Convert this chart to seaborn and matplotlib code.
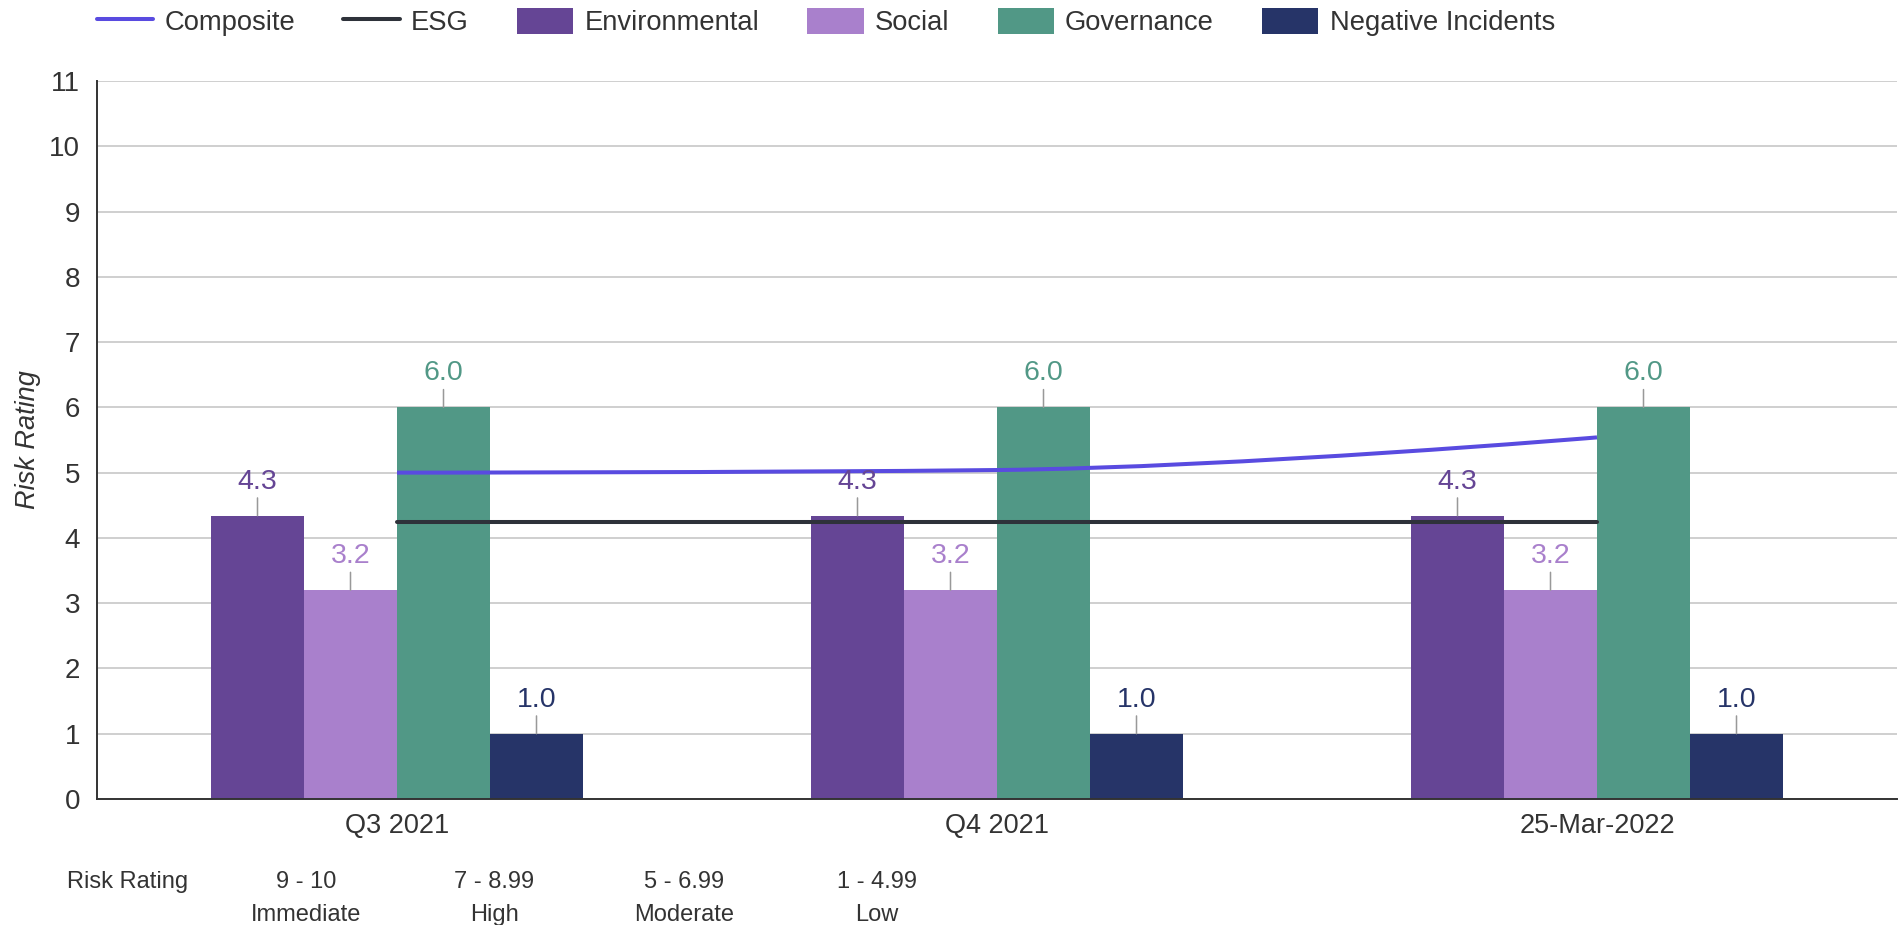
import numpy as np
import pandas as pd
import seaborn as sns
import matplotlib
matplotlib.use("Agg")
import matplotlib.pyplot as plt
from matplotlib.path import Path
from matplotlib.patches import PathPatch, Patch
from matplotlib.lines import Line2D

# ---- data -------------------------------------------------------------
periods = ["Q3 2021", "Q4 2021", "25-Mar-2022"]
environmental = [4.34, 4.34, 4.34]
social = [3.2, 3.2, 3.2]
governance = [6.0, 6.0, 6.0]
negative_incidents = [1.0, 1.0, 1.0]
composite = [5.0, 5.04, 5.54]
esg = [4.25, 4.25, 4.25]

pillars = ["Environmental", "Social", "Governance", "Negative Incidents"]
pillar_colors = ["#654595", "#a980cc", "#519886", "#263468"]
composite_color = "#594be0"
esg_color = "#2e323a"

band_ranges = ["9 - 10", "7 - 8.99", "5 - 6.99", "1 - 4.99"]
band_names = ["Immediate", "High", "Moderate", "Low"]
y_ticks = list(range(0, 12))

# ---- styling ----------------------------------------------------------
sns.set_theme(style="white")
plt.rcParams["font.family"] = ["Liberation Sans", "DejaVu Sans"]
text_color = "#333333"

df = pd.DataFrame({
    "period": np.repeat(periods, len(pillars)),
    "pillar": pillars * len(periods),
    "score": [v for vals in zip(environmental, social, governance, negative_incidents) for v in vals],
})

W, H = 1904, 925
fig = plt.figure(figsize=(W / 100, H / 100), dpi=100)
ax_left, ax_right, ax_top, ax_bottom = 97, 1897, 81, 799
ax = fig.add_axes([ax_left / W, 1 - ax_bottom / H,
                   (ax_right - ax_left) / W, (ax_bottom - ax_top) / H])

sns.barplot(data=df, x="period", y="score", hue="pillar", hue_order=pillars,
            palette=dict(zip(pillars, pillar_colors)), width=0.62, gap=0,
            saturation=1, linewidth=0, legend=False, ax=ax, zorder=2)

# value labels with short leader lines
for container, color in zip(ax.containers, pillar_colors):
    for bar in container:
        h = bar.get_height()
        x = bar.get_x() + bar.get_width() / 2
        ax.annotate(f"{h:.1f}", xy=(x, h), xytext=(0, 19.5), textcoords="offset points",
                    ha="center", va="baseline", fontsize=20.5, color=color, zorder=6,
                    arrowprops=dict(arrowstyle="-", color="#999999", lw=1.1,
                                    shrinkA=0, shrinkB=0))

# ESG reference line
sns.lineplot(x=[0, 1, 2], y=esg, color=esg_color, linewidth=2.9, ax=ax, zorder=4)


# Composite as a smoothed spline through the period values
def spline_path(xs, ys, smoothing=1.5):
    denom = smoothing + 1
    n = len(xs)
    left = [None] * n
    right = [None] * n
    for i in range(1, n - 1):
        lx = (smoothing * xs[i] + xs[i - 1]) / denom
        ly = (smoothing * ys[i] + ys[i - 1]) / denom
        rx = (smoothing * xs[i] + xs[i + 1]) / denom
        ry = (smoothing * ys[i] + ys[i + 1]) / denom
        corr = ((ry - ly) * (rx - xs[i])) / (rx - lx) + ys[i] - ry
        ly += corr
        ry += corr
        if ly > ys[i - 1] and ly > ys[i]:
            ly = max(ys[i - 1], ys[i])
            ry = 2 * ys[i] - ly
        elif ly < ys[i - 1] and ly < ys[i]:
            ly = min(ys[i - 1], ys[i])
            ry = 2 * ys[i] - ly
        if ry > ys[i + 1] and ry > ys[i]:
            ry = max(ys[i + 1], ys[i])
            ly = 2 * ys[i] - ry
        elif ry < ys[i + 1] and ry < ys[i]:
            ry = min(ys[i + 1], ys[i])
            ly = 2 * ys[i] - ry
        left[i] = (lx, ly)
        right[i] = (rx, ry)
    verts = [(xs[0], ys[0])]
    codes = [Path.MOVETO]
    for i in range(1, n):
        c1 = right[i - 1] if right[i - 1] else (xs[i - 1], ys[i - 1])
        c2 = left[i] if left[i] else (xs[i], ys[i])
        verts += [c1, c2, (xs[i], ys[i])]
        codes += [Path.CURVE4] * 3
    return Path(verts, codes)


ax.add_patch(PathPatch(spline_path([0, 1, 2], composite), fill=False,
                       edgecolor=composite_color, linewidth=2.9, zorder=5,
                       capstyle="butt"))

# ---- axes -------------------------------------------------------------
ax.set_xlim(-0.5, 2.5)
ax.set_ylim(0, 11)
ax.set_yticks(y_ticks)
ax.yaxis.grid(True, color="#cccccc", linewidth=1.3, zorder=0)
ax.xaxis.grid(False)
ax.set_axisbelow(True)
for side in ["top", "right"]:
    ax.spines[side].set_visible(False)
for side in ["left", "bottom"]:
    ax.spines[side].set_color("#333333")
    ax.spines[side].set_linewidth(1.4)
ax.tick_params(axis="y", length=0, pad=12, labelsize=20, labelcolor=text_color)
ax.tick_params(axis="x", length=0, pad=10, labelsize=19.5, labelcolor=text_color)
ax.set_xlabel("")
ax.set_ylabel("Risk Rating", fontsize=19.5, fontstyle="italic", color=text_color)
ax.yaxis.set_label_coords((41 - ax_left) / (ax_right - ax_left), 0.5)

# ---- legend -----------------------------------------------------------
handles = [
    Line2D([], [], color=composite_color, lw=2.9),
    Line2D([], [], color=esg_color, lw=2.9),
] + [Patch(facecolor=c, edgecolor="none") for c in pillar_colors]
labels = ["Composite", "ESG"] + pillars
fig.legend(handles, labels, loc="center left", bbox_to_anchor=(97 / W, 1 - 22 / H),
           ncol=6, frameon=False, fontsize=19.7, handlelength=2.05, handleheight=1.08,
           handletextpad=0.41, columnspacing=1.77, borderpad=0, borderaxespad=0,
           labelcolor=text_color)

# ---- rating band key --------------------------------------------------
fig.text(128 / W, 1 - 882 / H, "Risk Rating", ha="center", va="center",
         fontsize=17, color=text_color)
band_x = [306, 494, 684, 877]
for bx, rng, name in zip(band_x, band_ranges, band_names):
    fig.text(bx / W, 1 - 882 / H, rng, ha="center", va="center", fontsize=17, color=text_color)
    fig.text(bx / W, 1 - 915 / H, name, ha="center", va="center", fontsize=17, color=text_color)

fig.savefig("out.png", dpi=100)
